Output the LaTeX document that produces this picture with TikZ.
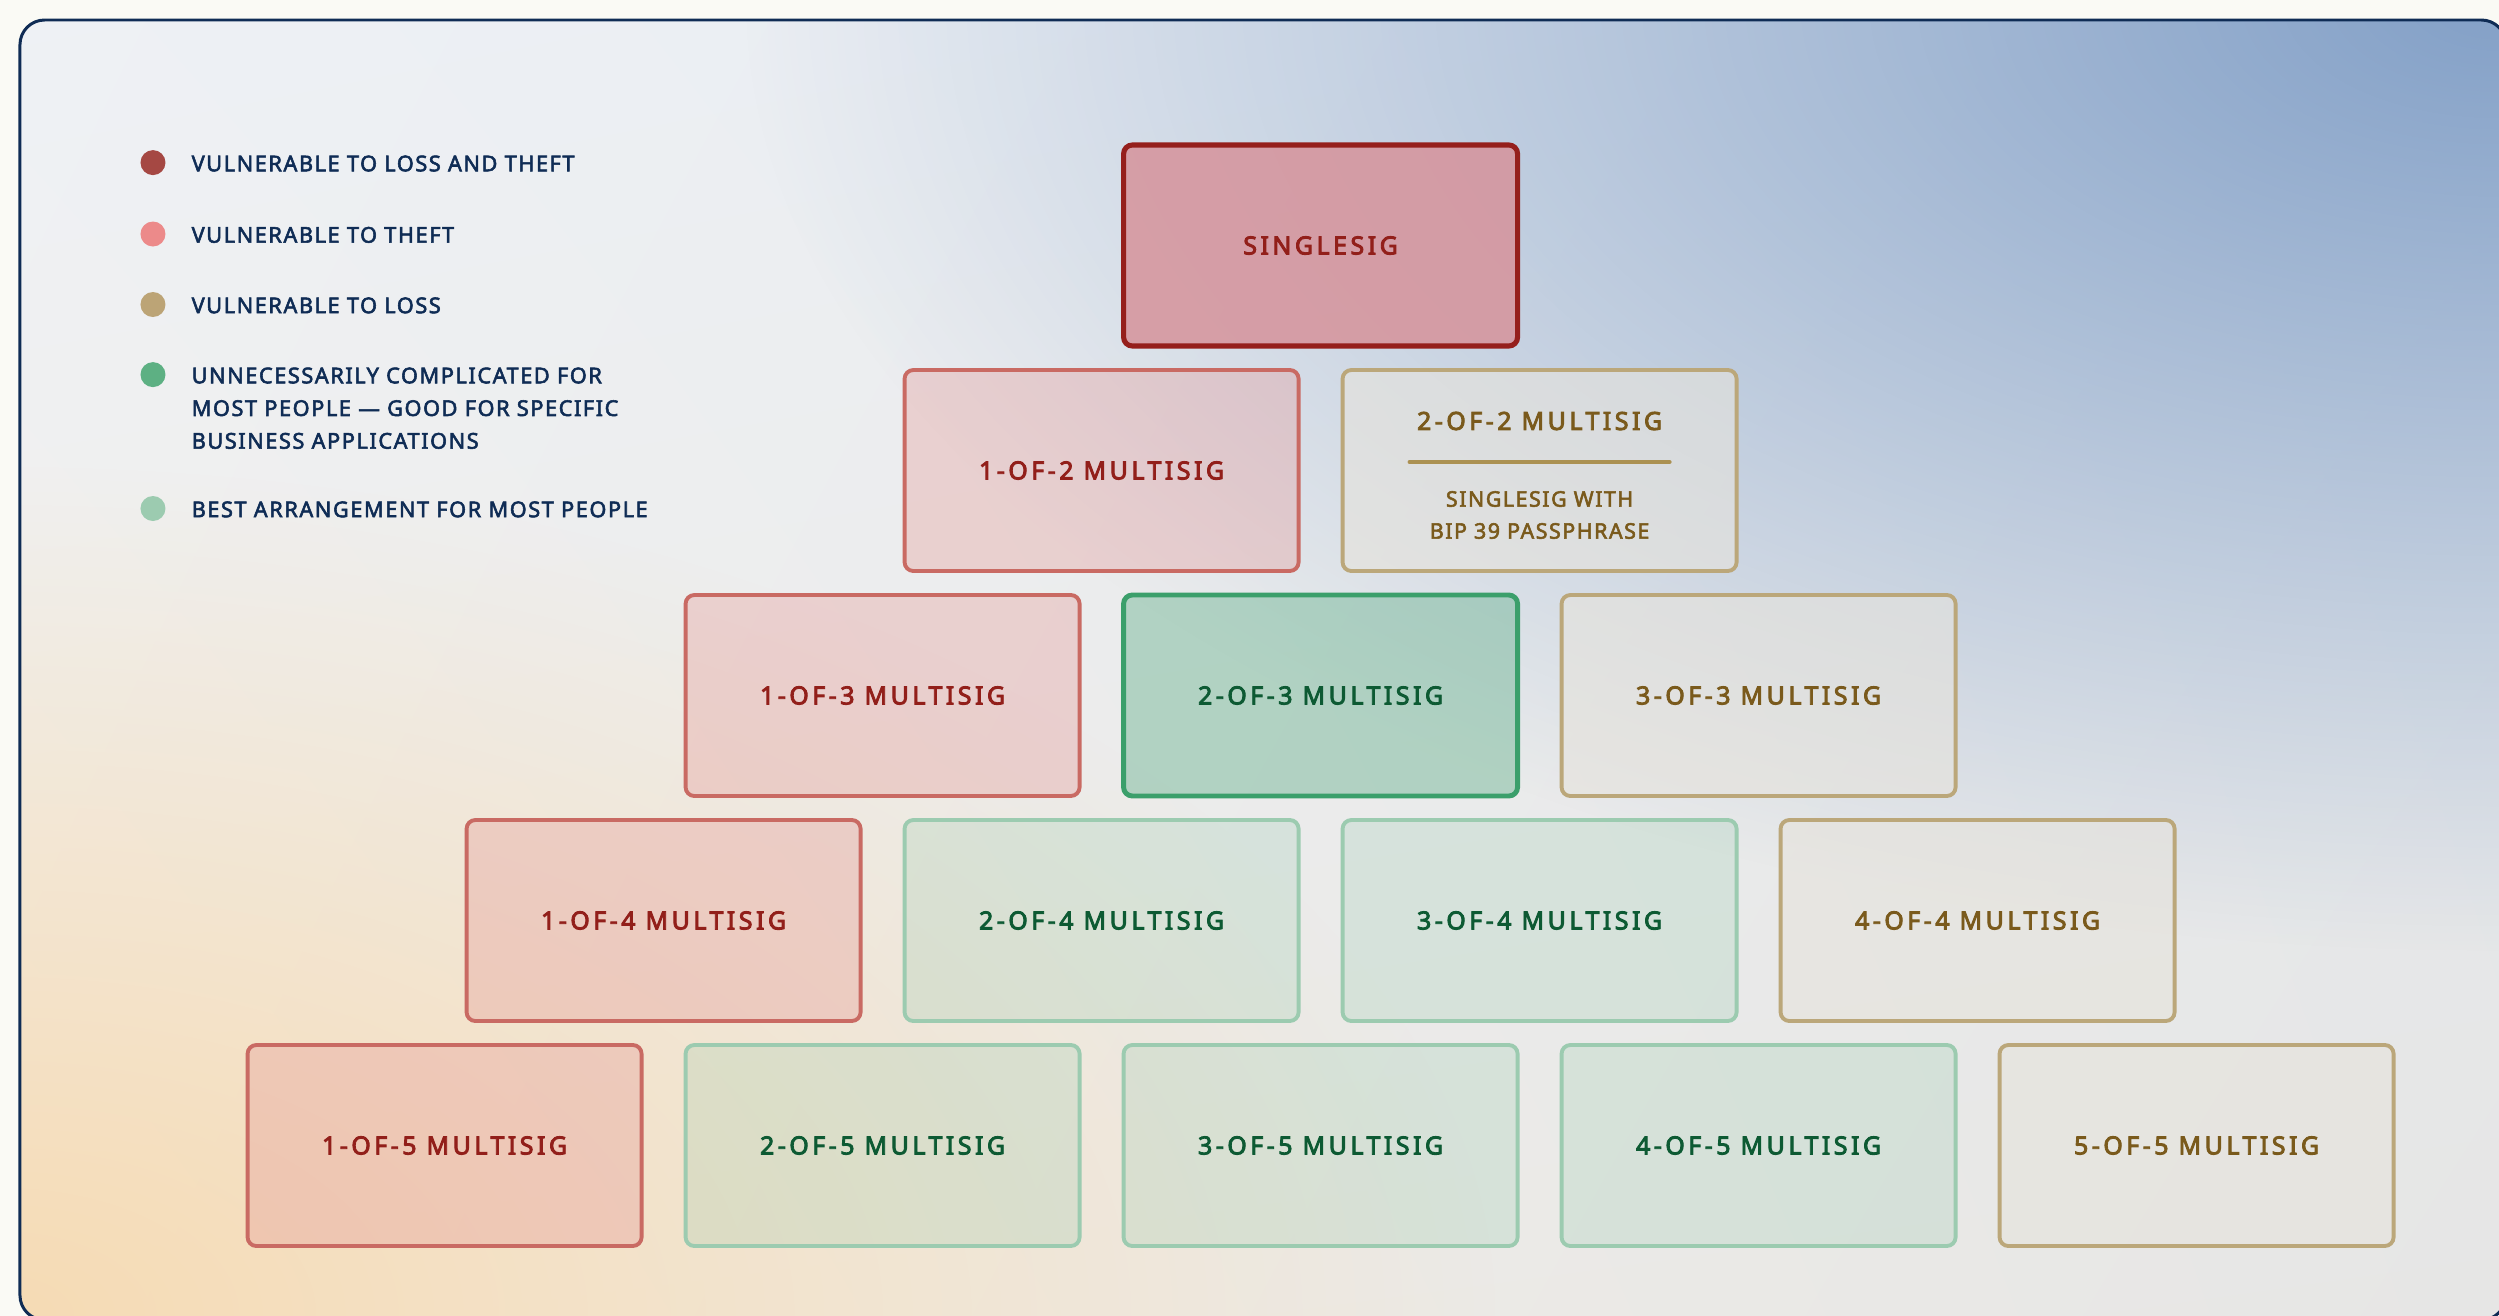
\documentclass[tikz,border=0pt]{standalone}
\usepackage{fontspec}
\usetikzlibrary{fadings,shadings}
\setmainfont{Noto Sans}
\newfontfamily\tagfont[LetterSpace=14,FakeBold=3.5]{Noto Sans}
\newfontfamily\keyfont[LetterSpace=7,FakeBold=2.5]{Noto Sans}

\definecolor{paper}{HTML}{FAFAF5}
\definecolor{ink}{HTML}{0F2C55}
\definecolor{bgtl}{HTML}{EEF1F5}
\definecolor{bgtr}{HTML}{E4E9F0}
\definecolor{bgbl}{HTML}{F3EFE8}
\definecolor{bgbr}{HTML}{E6E6E5}
\definecolor{bgpeach}{HTML}{F6DBB4}
\definecolor{bgblue}{HTML}{83A0C7}
\definecolor{dotboth}{HTML}{A54843}
\definecolor{dottheft}{HTML}{EC8A8A}
\definecolor{dotloss}{HTML}{BCA476}
\definecolor{dotpick}{HTML}{5DB083}
\definecolor{dotbest}{HTML}{9CCBB0}
\definecolor{rimdark}{HTML}{951F1C}
\definecolor{rimred}{HTML}{C96A63}
\definecolor{rimtan}{HTML}{BBA77A}
\definecolor{rimgreen}{HTML}{3B9F6B}
\definecolor{rimmint}{HTML}{9CCBB0}
\definecolor{txtred}{HTML}{921F1A}
\definecolor{txttan}{HTML}{7A5A1C}
\definecolor{txtgreen}{HTML}{0D5A33}
\definecolor{fillsingle}{HTML}{D6939B}
\definecolor{fillred}{HTML}{E59A98}
\definecolor{filltan}{HTML}{E6E3DC}
\definecolor{fillgreen}{HTML}{6BB391}
\definecolor{fillmint}{HTML}{8FC6A8}
\definecolor{divider}{HTML}{AB9152}

% linear fall-off from the centre to the rim of the path
\pgfdeclareradialshading{glowramp}{\pgfpointorigin}{color(0bp)=(pgftransparent!0);
  color(25bp)=(pgftransparent!100); color(50bp)=(pgftransparent!100)}
\pgfdeclarefading{glow}{\pgfuseshading{glowramp}}

\tikzset{
  tier/.style={draw, rounded corners=2.5pt, minimum width=3.94cm, minimum height=2.01cm,
    line width=1.1pt, text opacity=1, align=center,
    font=\tagfont\fontsize{7.1}{9}\selectfont},
  lossandtheft/.style={tier, draw=rimdark, line width=1.45pt, fill=fillsingle,
    fill opacity=.85, text=txtred},
  theft/.style={tier, draw=rimred, fill=fillred, fill opacity=.35, text=txtred},
  loss/.style={tier, draw=rimtan, fill=filltan, fill opacity=.6, text=txttan},
  pick/.style={tier, draw=rimgreen, line width=1.4pt, fill=fillgreen, fill opacity=.45,
    text=txtgreen},
  best/.style={tier, draw=rimmint, fill=fillmint, fill opacity=.22, text=txtgreen},
  swatch/.style={circle, inner sep=0pt, minimum size=.25cm},
  keytext/.style={anchor=north west, inner sep=0pt, align=left, text=ink,
    font=\keyfont\fontsize{6.2}{9.3}\selectfont},
}

\begin{document}
\begin{tikzpicture}
  \useasboundingbox[fill=paper] (-13.206,-10.705) rectangle (11.784,2.455);
  % backdrop
  \begin{scope}
    \clip[rounded corners=7pt] (-13.006,-10.745) rectangle (11.854,2.255);
    \shade[upper left=bgtl, upper right=bgtr, lower left=bgbl, lower right=bgbr]
      (-13.206,-10.705) rectangle (11.784,2.455);
    \fill[bgpeach, path fading=glow, fit fading=true] (-13.206,-10.705) ellipse (15 and 8.5);
    \fill[bgblue, path fading=glow, fit fading=true] (11.784,2.455) ellipse (17.5 and 9.5);
  \end{scope}
  \draw[ink, line width=.85pt, rounded corners=7pt]
    (-13.006,-10.745) rectangle (11.854,2.255);

  % legend
  \foreach \c/\y/\t [count=\i] in {dotboth/0.829/{VULNERABLE TO LOSS AND THEFT},
      dottheft/0.115/{VULNERABLE TO THEFT}, dotloss/-0.59/{VULNERABLE TO LOSS},
      dotpick/-1.291/{UNNECESSARILY COMPLICATED FOR\\MOST PEOPLE — GOOD FOR SPECIFIC\\BUSINESS APPLICATIONS},
      dotbest/-2.63/{BEST ARRANGEMENT FOR MOST PEOPLE}} {
    \node[swatch, fill=\c] (dot\i) at (-11.676,\y) {};
    \node[keytext] (key\i) at (-11.296,\y+0.078) {\t};
  }

  % pyramid
  \node[lossandtheft] (single) at (0,0) {SINGLESIG};
  \foreach \m/\n/\kind in {1/2/theft, 1/3/theft, 2/3/pick, 3/3/loss,
      1/4/theft, 2/4/best, 3/4/best, 4/4/loss,
      1/5/theft, 2/5/best, 3/5/best, 4/5/best, 5/5/loss}
    \node[\kind] (ms\m\n) at ({(2*\m-\n-1)*2.19},{-(\n-1)*2.25}) {\m-OF-\n\ MULTISIG};

  % 2-of-2 with its note
  \node[loss] (ms22) at (2.19,-2.25) {};
  \node[text=txttan, font=\tagfont\fontsize{7.1}{9}\selectfont] (ms22top)
    at ([yshift=.495cm]ms22.center) {2-OF-2 MULTISIG};
  \coordinate (rulel) at ([xshift=-1.3cm,yshift=.085cm]ms22.center);
  \coordinate (ruler) at ([xshift=1.3cm,yshift=.085cm]ms22.center);
  \draw[divider, line width=1.15pt, line cap=round] (rulel) -- (ruler);
  \node[text=txttan, align=center, font=\keyfont\fontsize{6.1}{9.1}\selectfont] (ms22sub)
    at ([yshift=-.445cm]ms22.center) {SINGLESIG WITH\\BIP 39 PASSPHRASE};
\end{tikzpicture}
\end{document}
